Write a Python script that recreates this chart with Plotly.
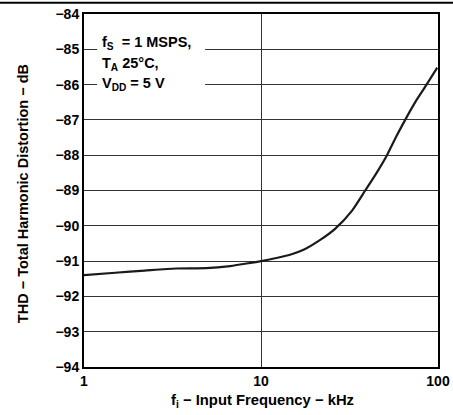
import plotly.graph_objects as go

freq_khz = [1.0, 1.5, 2.2, 3.3, 4.9, 6.7, 8.5, 10.0, 12.0, 14.6, 17.4, 21.6, 26.3, 32.7, 38.8, 45.0, 51.5, 58.0, 66.9, 76.0, 86.7, 99.0]
thd_db = [-91.40, -91.33, -91.27, -91.21, -91.20, -91.14, -91.06, -91.00, -90.92, -90.82, -90.68, -90.40, -90.08, -89.57, -89.00, -88.50, -88.00, -87.48, -86.90, -86.42, -85.98, -85.52]

y_ticks = [-94, -93, -92, -91, -90, -89, -88, -87, -86, -85, -84]
x_ticks = [1, 10, 100]
x_tick_labels = ["1", "10", "100"]

FONT = "Liberation Sans, Arial, sans-serif"
BOLD14 = dict(family=FONT, size=14, color="black", weight="bold")

fig = go.Figure()
fig.add_trace(go.Scatter(
    x=freq_khz, y=thd_db, mode="lines",
    line=dict(color="#1a1a1a", width=2.2, shape="spline", smoothing=0.6),
    showlegend=False, hoverinfo="skip",
))

fig.update_layout(
    width=453, height=415,
    margin=dict(l=84, r=15, t=14, b=48, pad=0),
    paper_bgcolor="white", plot_bgcolor="white",
    font=dict(family=FONT, color="black", size=14),
    xaxis=dict(
        type="log", range=[0, 2], automargin=False,
        tickvals=x_ticks, ticktext=x_tick_labels,
        tickfont=BOLD14,
        showgrid=True, gridcolor="#333333", gridwidth=1,
        showline=True, linecolor="black", linewidth=2, mirror=True,
        ticks="", ticklen=0, zeroline=False,
    ),
    yaxis=dict(
        range=[-94, -84], automargin=False,
        tickvals=y_ticks,
        tickfont=BOLD14,
        showgrid=True, gridcolor="#333333", gridwidth=1,
        showline=True, linecolor="black", linewidth=2, mirror=True,
        ticks="", ticklen=0, zeroline=False,
    ),
    shapes=[
        dict(type="rect", xref="paper", yref="y", x0=0.037, x1=0.342, y0=-86.4, y1=-84.45,
             fillcolor="white", line=dict(width=0), layer="above"),
        dict(type="line", xref="paper", yref="paper", x0=-0.3, x1=1.1, y0=1.032, y1=1.032,
             line=dict(color="black", width=2), layer="above"),
    ],
    annotations=[
        dict(xref="paper", yref="y", x=0.045, y=-84.83, xanchor="left", yanchor="middle",
             text="<b>f<sub>S</sub>&nbsp; = 1 MSPS,</b>", showarrow=False,
             font=dict(family=FONT, size=14.5, color="black")),
        dict(xref="paper", yref="y", x=0.045, y=-85.43, xanchor="left", yanchor="middle",
             text="<b>T<sub>A</sub> 25°C,</b>", showarrow=False,
             font=dict(family=FONT, size=14.5, color="black")),
        dict(xref="paper", yref="y", x=0.045, y=-85.97, xanchor="left", yanchor="middle",
             text="<b>V<sub>DD</sub> = 5 V</b>", showarrow=False,
             font=dict(family=FONT, size=14.5, color="black")),
        dict(xref="paper", yref="paper", x=0.503, y=-0.097, xanchor="center", yanchor="middle",
             text="<b>f<sub>i</sub> − Input Frequency − kHz</b>", showarrow=False,
             font=dict(family=FONT, size=14.8, color="black")),
        dict(xref="paper", yref="paper", x=-0.172, y=0.49, xanchor="center", yanchor="middle",
             text="<b>THD − Total Harmonic Distortion − dB</b>", showarrow=False, textangle=-90,
             font=dict(family=FONT, size=14.5, color="black")),
    ],
)

fig.write_html("out.html", config={"displayModeBar": False},
               post_script="document.body.style.margin='0';")
